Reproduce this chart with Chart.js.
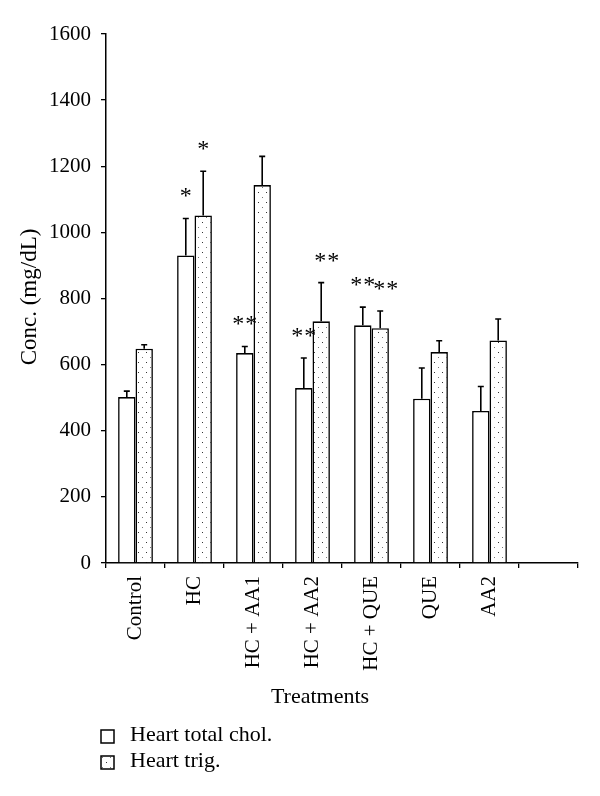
<!DOCTYPE html>
<html>
<head>
<meta charset="utf-8">
<script src="https://cdn.jsdelivr.net/npm/chart.js@4.4.1/dist/chart.umd.min.js"></script>
<style>
  html, body { margin: 0; padding: 0; background: #fff; }
  #wrap { width: 600px; height: 796px; position: relative; }
</style>
</head>
<body>
<div id="wrap"><canvas id="c" width="600" height="796"></canvas></div>
<script>
const categories = ["Control", "HC", "HC + AA1", "HC + AA2", "HC + QUE", "QUE", "AA2", ""];
const seriesNames = ["Heart total chol.", "Heart trig."];
const cholValues = [502, 930, 635, 529, 719, 497, 460, null];
const cholErrors = [18, 112, 20, 91, 55, 93, 74, null];
const trigValues = [648, 1051, 1143, 731, 710, 638, 673, null];
const trigErrors = [12, 134, 87, 117, 52, 34, 65, null];
const cholMarks = ["", "*", "* *", "* *", "* *", "", "", ""];
const trigMarks = ["", "*", "", "* *", "* *", "", "", ""];
const yTicks = [0, 200, 400, 600, 800, 1000, 1200, 1400, 1600];
const xTitle = "Treatments";
const yTitle = "Conc. (mg/dL)";

const FONT = "'Liberation Serif', 'Times New Roman', serif";

function makeDots() {
  const p = document.createElement('canvas');
  p.width = 8; p.height = 10;
  const g = p.getContext('2d');
  g.fillStyle = '#fff';
  g.fillRect(0, 0, 8, 10);
  g.fillStyle = '#333';
  g.fillRect(2, 2, 1, 1);
  g.fillStyle = '#777';
  g.fillRect(6, 7, 1, 1);
  return g.createPattern(p, 'repeat');
}
const dotPattern = makeDots();

const errorPlugin = {
  id: 'errs',
  afterDatasetsDraw(chart) {
    const ctx = chart.ctx;
    const ys = chart.scales.y;
    const errs = [cholErrors, trigErrors];
    const vals = [cholValues, trigValues];
    const marks = [cholMarks, trigMarks];
    const STEP = 13;
    ctx.save();
    ctx.strokeStyle = '#000';
    ctx.lineWidth = 1.6;
    ctx.font = "24px " + FONT;
    ctx.textAlign = 'center';
    ctx.textBaseline = 'alphabetic';
    const prevLast = {};
    for (let d = 0; d < 2; d++) {
      const meta = chart.getDatasetMeta(d);
      meta.data.forEach((bar, i) => {
        if (vals[d][i] == null) return;
        const x = bar.x;
        const y0 = ys.getPixelForValue(vals[d][i]);
        const y1 = ys.getPixelForValue(vals[d][i] + errs[d][i]);
        ctx.beginPath();
        ctx.moveTo(x, y0);
        ctx.lineTo(x, y1);
        ctx.moveTo(x - 3, y1);
        ctx.lineTo(x + 3, y1);
        ctx.stroke();
        const m = marks[d][i];
        if (m) {
          const stars = m.split(' ').filter(s => s);
          let first = x - (stars.length - 1) * STEP / 2;
          if (prevLast[i] !== undefined && first < prevLast[i] + 10) first = prevLast[i] + 10;
          ctx.fillStyle = '#000';
          stars.forEach((s, k) => ctx.fillText(s, first + k * STEP, y1 - 15));
          prevLast[i] = first + (stars.length - 1) * STEP;
        }
      });
    }
    ctx.restore();
  },
  afterDraw(chart) {
    const ctx = chart.ctx;
    ctx.save();
    ctx.fillStyle = '#000';
    ctx.font = "22px " + FONT;
    ctx.textAlign = 'center';
    ctx.textBaseline = 'alphabetic';
    ctx.fillText(xTitle, 320, 703);
    ctx.save();
    ctx.translate(30, 297);
    ctx.rotate(-Math.PI / 2);
    ctx.textBaseline = 'middle';
    ctx.font = "23px " + FONT;
    ctx.fillText(yTitle, 0, 0);
    ctx.restore();
    // legend
    const fills = ['#fff', dotPattern];
    const boxY = [730, 756];
    ctx.textAlign = 'left';
    ctx.lineWidth = 1.5;
    ctx.strokeStyle = '#000';
    for (let k = 0; k < 2; k++) {
      ctx.fillStyle = fills[k];
      ctx.fillRect(101, boxY[k], 13, 13);
      ctx.strokeRect(101, boxY[k], 13, 13);
      ctx.fillStyle = '#000';
      ctx.fillText(seriesNames[k], 130, boxY[k] + 11);
    }
    ctx.restore();
  }
};

new Chart(document.getElementById('c'), {
  type: 'bar',
  data: {
    labels: categories,
    datasets: [
      { label: seriesNames[0], data: cholValues, backgroundColor: '#fff', borderColor: '#000', borderWidth: 1.6,
        categoryPercentage: 0.59, barPercentage: 1.0 },
      { label: seriesNames[1], data: trigValues, backgroundColor: dotPattern, borderColor: '#000', borderWidth: 1.6,
        categoryPercentage: 0.59, barPercentage: 1.0 }
    ]
  },
  options: {
    responsive: false,
    animation: false,
    devicePixelRatio: 1,
    layout: { padding: { left: 0, top: 34, right: 22, bottom: 0 } },
    plugins: { legend: { display: false }, tooltip: { enabled: false } },
    scales: {
      x: {
        offset: true,
        grid: { offset: true, drawOnChartArea: false, drawTicks: true, tickLength: 5, color: '#000', lineWidth: 1.3 },
        border: { display: true, color: '#000', width: 1.5 },
        ticks: { color: '#000', font: { family: FONT, size: 21 }, minRotation: 90, maxRotation: 90, padding: 8, autoSkip: false },
        afterFit(s) { s.height = 233; }
      },
      y: {
        min: 0, max: 1600,
        afterBuildTicks(s) { s.ticks = yTicks.map(v => ({ value: v })); },
        grid: { drawOnChartArea: false, drawTicks: true, tickLength: 5, color: '#000', lineWidth: 1.3 },
        border: { display: true, color: '#000', width: 1.5 },
        ticks: { color: '#000', font: { family: FONT, size: 21 }, padding: 10, callback: v => String(v) },
        afterFit(s) { s.width = 106; }
      }
    }
  },
  plugins: [errorPlugin]
});
</script>
</body>
</html>
